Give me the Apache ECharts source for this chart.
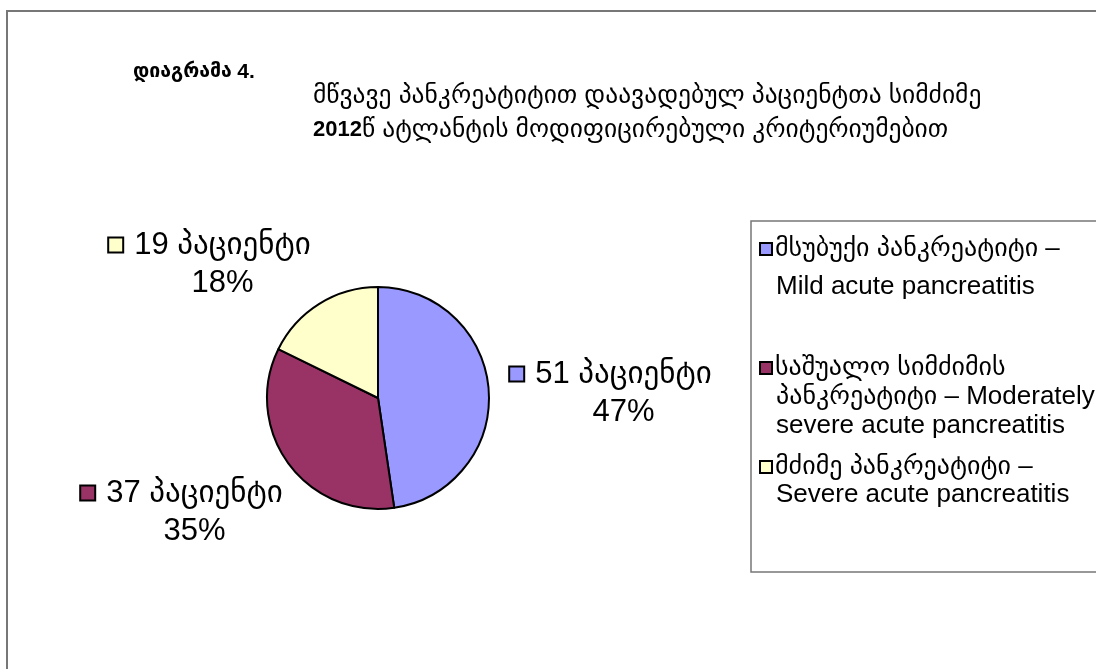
<!DOCTYPE html>
<html>
<head>
<meta charset="utf-8">
<script src="https://cdn.jsdelivr.net/npm/echarts@6/dist/echarts.min.js"></script>
<style>
  html, body { margin: 0; padding: 0; background: #ffffff; }
  #chart { width: 1096px; height: 669px; }
</style>
</head>
<body>
<div id="chart"></div>
<script>
// Severity groups (series names) and the wrapped lines shown in the legend
const categories = [
  'მსუბუქი პანკრეატიტი – Mild acute pancreatitis',
  'საშუალო სიმძიმის პანკრეატიტი – Moderately severe acute pancreatitis',
  'მძიმე პანკრეატიტი – Severe acute pancreatitis'
];
const legendLines = [
  ['მსუბუქი პანკრეატიტი –', 'Mild acute pancreatitis'],
  ['საშუალო სიმძიმის', 'პანკრეატიტი – Moderately', 'severe acute pancreatitis'],
  ['მძიმე პანკრეატიტი –', 'Severe acute pancreatitis']
];
// Number of patients per group and the printed shares
const patients = [51, 37, 19];
const percentLabels = ['47%', '35%', '18%'];
const unitWord = 'პაციენტი';
const colors = ['#9999FF', '#993366', '#FFFFCC'];

const titleWord = 'დიაგრამა';
const titleNumber = '4.';
const subtitleLine1 = 'მწვავე პანკრეატიტით დაავადებულ პაციენტთა სიმძიმე';
const subtitleYear = '2012';
const subtitleLine2 = 'წ ატლანტის მოდიფიცირებული კრიტერიუმებით';

const FONT = "'Liberation Sans', 'DejaVu Sans', sans-serif";

// label block centres around the pie
const labelAnchors = [[611, 393], [182, 512], [210, 264]];
// legend entry tops and their line heights
const legendTops = [236, 355, 454];
const legendLineHeights = [38, 29, 28];

const chart = echarts.init(document.getElementById('chart'), null, { renderer: 'canvas' });

const labelRich = {
  t: { fontFamily: FONT, fontSize: 31, color: '#000', lineHeight: 38, padding: [0, 0, 0, 12] },
  p: { fontFamily: FONT, fontSize: 31, color: '#000', lineHeight: 38, padding: [0, 0, 0, 25] }
};
colors.forEach((c, i) => {
  labelRich['sq' + i] = { width: 13, height: 13, backgroundColor: c, borderColor: '#000', borderWidth: 2, verticalAlign: 'middle' };
});

const legends = categories.map((name, i) => {
  const rich = {
    sq: { width: 10, height: 10, backgroundColor: colors[i], borderColor: '#000', borderWidth: 2, verticalAlign: 'middle' },
    f: { fontFamily: FONT, fontSize: 26, color: '#000', lineHeight: legendLineHeights[i], padding: [0, 0, 0, 4] },
    n: { fontFamily: FONT, fontSize: 26, color: '#000', lineHeight: legendLineHeights[i], padding: [0, 0, 0, 15] }
  };
  return {
    data: [name],
    orient: 'vertical',
    left: 756,
    top: legendTops[i],
    itemWidth: 0,
    itemHeight: 0,
    itemStyle: { opacity: 0, borderWidth: 0 },
    selectedMode: false,
    padding: 0,
    formatter: () => {
      const lines = legendLines[i];
      return lines.map((ln, k) => k === 0 ? '{sq|}{f|' + ln + '}' : '{n|' + ln + '}').join('\n');
    },
    textStyle: { rich: rich }
  };
});

const option = {
  backgroundColor: '#ffffff',
  animation: false,
  title: [
    {
      left: 133, top: 60, padding: 0,
      text: '{g|' + titleWord + ' }{b|' + titleNumber + '}',
      textStyle: {
        fontWeight: 'bold',
        rich: {
          g: { fontFamily: FONT, fontSize: 19.5, fontWeight: 'bold', color: '#000', lineHeight: 24 },
          b: { fontFamily: FONT, fontSize: 21, fontWeight: 'bold', color: '#000', lineHeight: 24 }
        }
      }
    },
    {
      left: 313, top: 79, padding: 0,
      text: '{g|' + subtitleLine1 + '}\n{b|' + subtitleYear + '}{g|' + subtitleLine2 + '}',
      textStyle: {
        fontWeight: 'normal',
        rich: {
          g: { fontFamily: FONT, fontSize: 25.5, fontWeight: 'normal', color: '#000', lineHeight: 34 },
          b: { fontFamily: FONT, fontSize: 22, fontWeight: 'bold', color: '#000', lineHeight: 34 }
        }
      }
    }
  ],
  legend: legends,
  graphic: [
    { type: 'rect', silent: true, z: -10, shape: { x: 7, y: 11, width: 1300, height: 900 },
      style: { fill: 'none', stroke: '#777777', lineWidth: 2 } },
    { type: 'rect', silent: true, z: -10, shape: { x: 751, y: 221, width: 500, height: 351 },
      style: { fill: 'none', stroke: '#777777', lineWidth: 1.5 } }
  ],
  series: [
    {
      type: 'pie',
      center: [378, 398],
      radius: 111,
      startAngle: 90,
      clockwise: true,
      avoidLabelOverlap: false,
      emphasis: { disabled: true },
      itemStyle: { borderColor: '#000000', borderWidth: 2 },
      data: categories.map((name, i) => ({ name: name, value: patients[i], itemStyle: { color: colors[i] } })),
      label: {
        show: true,
        position: 'outside',
        formatter: (p) => '{sq' + p.dataIndex + '|}{t|' + patients[p.dataIndex] + ' ' + unitWord + '}\n{p|' + percentLabels[p.dataIndex] + '}',
        rich: labelRich
      },
      labelLine: { show: false },
      labelLayout: (params) => ({
        x: labelAnchors[params.dataIndex][0],
        y: labelAnchors[params.dataIndex][1],
        align: 'center',
        verticalAlign: 'middle'
      })
    }
  ]
};

chart.setOption(option);
</script>
</body>
</html>
